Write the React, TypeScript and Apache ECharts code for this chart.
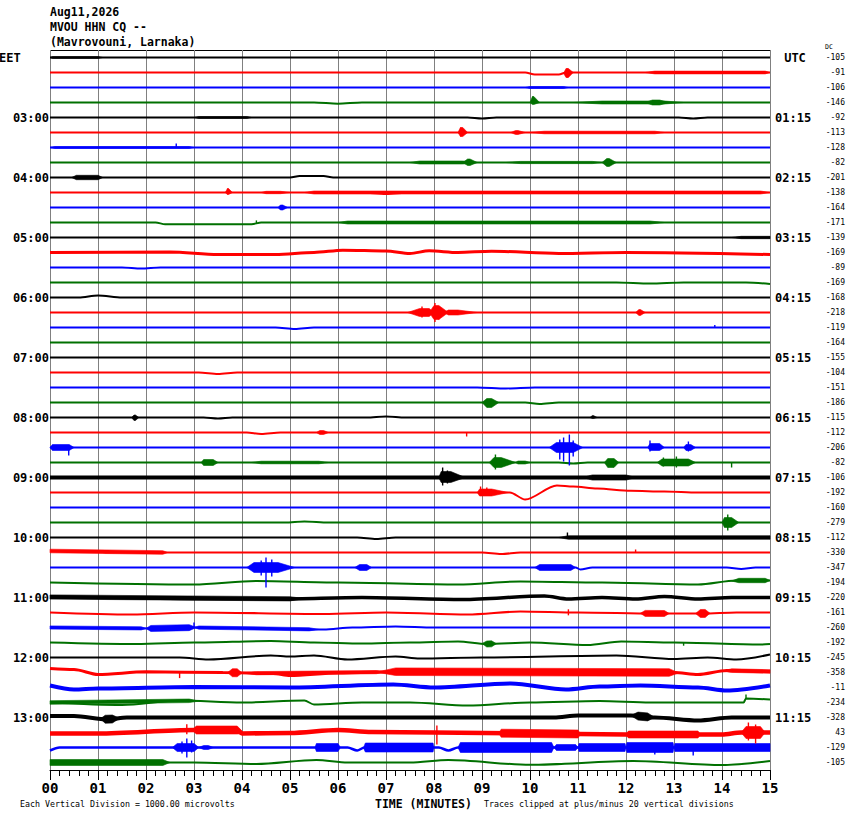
import React, { useEffect, useRef } from "react";
import * as echarts from "echarts";

const HEADER_LINES = ["Aug11,2026", "MVOU HHN CQ --", "(Mavrovouni, Larnaka)"];
const MINUTE_LABELS = ["00", "01", "02", "03", "04", "05", "06", "07", "08", "09", "10", "11", "12", "13", "14", "15"];
const LOCAL_HOURS = ["03:00", "04:00", "05:00", "06:00", "07:00", "08:00", "09:00", "10:00", "11:00", "12:00", "13:00"];
const UTC_HOURS = ["01:15", "02:15", "03:15", "04:15", "05:15", "06:15", "07:15", "08:15", "09:15", "10:15", "11:15"];
const DC_OFFSETS = [
  -105, -91, -106, -146, -92, -113, -128, -82, -201, -138, -164, -171,
  -139, -169, -89, -169, -168, -218, -119, -164, -155, -104, -151, -186,
  -115, -112, -206, -82, -106, -192, -160, -279, -112, -330, -347, -194,
  -220, -161, -260, -192, -245, -358, -11, -234, -328, 43, -129, -105,
];
const TRACE_COLORS = ["#000000", "#ff0000", "#0000ff", "#007000"];
const TRACE_WIDTHS = [
  2.2, 2, 2, 2, 2, 2, 2, 2, 2, 2, 2, 2,
  2, 3, 2, 2, 2, 2, 2, 2, 1.8, 2, 1.8, 2,
  2, 2, 2, 2.2, 4, 2, 2, 2, 2.2, 2.2, 2, 2,
  3.5, 2.2, 2.2, 2, 2, 3, 4, 2, 4, 4.5, 2.5, 2,
];
// slow baseline wander: [trace, minute, offset in px (+ = down)]
const WANDER: [number, number, number][] = [
  [1, 9.9, 0], [1, 10.1, 2], [1, 10.6, 2], [1, 10.75, 0],
  [3, 5.5, 0], [3, 6.0, 1.2], [3, 6.5, 0],
  [4, 8.7, 0], [4, 9.0, 1], [4, 9.3, 0], [4, 13.1, 0], [4, 13.4, 1], [4, 13.7, 0],
  [8, 5.0, 0], [8, 5.2, -1.5], [8, 5.7, -1.5], [8, 5.9, 0],
  [9, 6.5, 0], [9, 7.0, 1.5], [9, 7.5, 0],
  [11, 2.2, 0], [11, 2.4, 1.8], [11, 4.2, 1.8], [11, 4.4, 0],
  [13, 0, 0], [13, 2.5, -0.5], [13, 3.5, 2], [13, 4.7, 2], [13, 5.5, 0], [13, 6.1, -2.3], [13, 7.0, -1.5],
  [13, 7.5, 1], [13, 7.9, -1.7], [13, 8.5, 0], [13, 9.2, -1.3], [13, 10.6, 1], [13, 12, 0], [13, 15, 2],
  [14, 1.5, 0], [14, 1.9, 1], [14, 2.3, 0],
  [15, 11.8, 0], [15, 12.5, 1], [15, 13.2, 0], [15, 14.5, 0], [15, 15, 1.5],
  [16, 0.6, 0], [16, 1.0, -2], [16, 1.5, 0],
  [18, 4.7, 0], [18, 5.1, 1.5], [18, 5.5, 0],
  [21, 3.1, 0], [21, 3.5, 1.5], [21, 3.9, 0],
  [22, 8.9, 0], [22, 9.5, 1], [22, 10.1, 0],
  [23, 9.9, 0], [23, 10.2, 1.5], [23, 10.6, 0],
  [24, 3.2, 0], [24, 3.5, 1], [24, 3.8, 0], [24, 6.6, 0], [24, 7.0, -1], [24, 7.4, 0],
  [25, 4.1, 0], [25, 4.4, 1.5], [25, 4.8, 0],
  [27, 10.6, 0], [27, 10.9, 1], [27, 11.2, 0],
  [29, 9.58, 0], [29, 9.9, 7], [29, 10.56, -7], [29, 10.9, -6], [29, 11.4, -4], [29, 12.1, -1.7], [29, 12.8, -1], [29, 13.5, 0],
  [31, 4.9, 0], [31, 5.3, -1], [31, 5.8, 0],
  [32, 6.4, 0], [32, 6.8, 1.5], [32, 7.2, 0],
  [33, 0, -1.5], [33, 1.0, -1], [33, 1.2, 0], [33, 9.0, 0], [33, 9.4, 1.5], [33, 9.8, 0],
  [34, 10.95, 0], [34, 11.05, 2], [34, 11.3, 0], [34, 14.1, 0], [34, 14.4, 1.5], [34, 14.7, 0],
  [35, 0, 0], [35, 3.0, 2], [35, 4.3, -1.5], [35, 6, 0], [35, 8.5, 2], [35, 9.8, -1], [35, 11.5, 0], [35, 13.5, 2], [35, 14.3, -2], [35, 15, -2],
  [36, 0, -0.5], [36, 4.8, 1.5], [36, 6.5, 0], [36, 8.6, 2], [36, 10.3, -1.5], [36, 10.8, 1.5], [36, 11.5, 0],
  [36, 12.2, 1.5], [36, 12.8, -1], [36, 13.5, 1.5], [36, 14.2, 0],
  [37, 0, 0], [37, 1.7, 2], [37, 3, 0], [37, 5.7, 1.5], [37, 7, 0], [37, 8.7, 2], [37, 9.8, -1], [37, 11, 0], [37, 12.6, 1], [37, 13.6, 1], [37, 14.3, 0],
  [38, 0, 0], [38, 2.2, 1], [38, 3.0, 0], [38, 5.7, 2], [38, 6.3, 0], [38, 7.2, -1], [38, 8, 0],
  [39, 0, 0], [39, 1.8, 1.5], [39, 3, 0], [39, 4.6, -1.5], [39, 5.5, 0], [39, 6.5, 1], [39, 7.5, 0], [39, 8.5, -1],
  [39, 9.1, 1.5], [39, 10, 0], [39, 11.2, 2.5], [39, 11.9, -1], [39, 13, 0], [39, 14.8, 2], [39, 15, 1.5],
  [40, 0, 0], [40, 2.7, 0], [40, 3.3, 2], [40, 4.6, -2], [40, 5.0, -1], [40, 5.5, -2], [40, 6.2, 2], [40, 7.2, -1],
  [40, 7.7, 1], [40, 9, 0], [40, 11.8, -2], [40, 13.0, 1.5], [40, 13.7, 0], [40, 14.3, 2], [40, 15, -3],
  [41, 0, -4], [41, 0.5, -3], [41, 1.0, 2], [41, 2.0, -0.7], [41, 3.6, 0], [41, 4.65, 1], [41, 5.0, 3], [41, 6.0, 0.5],
  [41, 7.4, -1], [41, 10, 0], [41, 13.0, 0], [41, 13.5, 2], [41, 14.1, -2], [41, 15, -1],
  [42, 0, -2], [42, 0.5, 2], [42, 1.0, 1], [42, 3, -0.5], [42, 5, 0], [42, 7.15, -3], [42, 8.0, 0], [42, 9.6, -4],
  [42, 10.75, 2], [42, 11.45, -1], [42, 12.3, -2], [42, 13.5, 0], [42, 14.1, 3], [42, 15, -2],
  [43, 0, 0], [43, 1.5, 2.5], [43, 2.7, -2], [43, 4.0, 0], [43, 5.3, -2], [43, 5.5, 2], [43, 6.5, 0], [43, 7.5, 0],
  [43, 8.7, 3], [43, 10, 0], [43, 11.45, -1.5], [43, 12.5, 0], [43, 14.45, 0], [43, 14.5, -4], [43, 15, -3],
  [44, 0, -1.5], [44, 0.5, -1.5], [44, 1.2, 2], [44, 1.6, 0], [44, 10.5, 0], [44, 11.0, -2], [44, 12.1, -2], [44, 12.6, 0], [44, 13.5, 3], [44, 14.2, 0],
  [45, 0, 1], [45, 1.0, 1], [45, 3.0, -2.5], [45, 3.9, -2.5], [45, 4.0, 1], [45, 5.0, 0.5], [45, 6.0, -2.5], [45, 6.7, -0.5],
  [45, 8, 0], [45, 12.0, 2], [45, 12.5, 2], [45, 14.0, 2], [45, 14.4, 0],
  [46, 0, 3], [46, 0.2, 0], [46, 6.2, 0], [46, 6.4, 3], [46, 6.55, 0], [46, 8.1, 0], [46, 8.3, 3], [46, 8.5, 0],
  [47, 0, 0], [47, 3, 0], [47, 4.3, 1.5], [47, 5.55, -2.5], [47, 6.2, 0], [47, 7.5, 0], [47, 8.3, -2.5], [47, 10.0, 2.3],
  [47, 12.15, -1.5], [47, 14.0, 2.5], [47, 15, -1.5],
];
// oscillation envelopes: [trace, start, rampEnd, holdEnd, end (minutes), up px, down px]
const BURSTS: [number, number, number, number, number, number, number][] = [
  [0, 0, 0.05, 1.0, 1.1, 1.0, 1.0],
  [1, 10.7, 10.75, 10.8, 10.9, 4, 5],
  [1, 12.4, 12.6, 14.9, 15, 1.4, 1.4],
  [2, 9.9, 10, 10.7, 10.8, 1, 1],
  [3, 10.0, 10.05, 10.08, 10.2, 6, 2],
  [3, 10.9, 11.5, 12.8, 13.2, 1.5, 1.5],
  [3, 12.4, 12.55, 12.7, 12.9, 2.5, 2.5],
  [4, 3.0, 3.1, 4.1, 4.2, 1, 1],
  [5, 8.5, 8.55, 8.6, 8.7, 5, 4],
  [5, 9.6, 9.7, 9.75, 9.9, 2, 2],
  [5, 10.0, 10.3, 12.6, 12.8, 1.3, 1.3],
  [6, 0, 0.1, 2.9, 3.0, 1, 1],
  [7, 7.5, 7.7, 8.6, 8.9, 1.5, 1.5],
  [7, 8.6, 8.7, 8.75, 8.9, 3.5, 3],
  [7, 9.5, 9.8, 11.3, 11.5, 1.1, 1.1],
  [7, 11.5, 11.6, 11.65, 11.8, 4, 4],
  [8, 0.45, 0.55, 1.0, 1.1, 2.2, 2.2],
  [9, 3.65, 3.7, 3.72, 3.8, 4, 2],
  [9, 4.4, 4.5, 4.8, 5.0, 1.2, 1.2],
  [9, 5.3, 5.5, 14.8, 15, 1.5, 1.5],
  [10, 4.75, 4.8, 4.85, 4.95, 2.5, 2.5],
  [11, 6.0, 6.2, 12.5, 12.8, 1.5, 1.5],
  [12, 14.2, 14.4, 15, 15, 1.2, 1.2],
  [17, 7.45, 7.7, 7.9, 8.0, 4, 4],
  [17, 7.9, 8.0, 8.1, 8.3, 7, 7],
  [17, 8.2, 8.3, 8.5, 8.9, 2.5, 2.5],
  [17, 12.2, 12.27, 12.3, 12.4, 3, 3],
  [23, 9.0, 9.1, 9.2, 9.35, 4, 5],
  [24, 1.7, 1.75, 1.78, 1.85, 2.5, 3],
  [24, 11.25, 11.3, 11.32, 11.4, 2, 1],
  [25, 5.55, 5.62, 5.7, 5.8, 2, 2],
  [26, 0.0, 0.05, 0.4, 0.5, 3, 3],
  [26, 10.4, 10.55, 10.9, 11.1, 5, 5],
  [26, 12.45, 12.5, 12.7, 12.8, 4, 3],
  [26, 13.2, 13.25, 13.35, 13.45, 3, 3],
  [27, 3.15, 3.2, 3.4, 3.5, 3, 3],
  [27, 4.2, 4.4, 5.6, 5.8, 1.3, 1.3],
  [27, 9.15, 9.25, 9.4, 9.7, 5, 5],
  [27, 9.7, 9.75, 9.9, 10.0, 1.5, 1.5],
  [27, 11.55, 11.62, 11.75, 11.85, 4, 5],
  [27, 12.65, 12.75, 13.3, 13.45, 3.5, 3.5],
  [28, 8.1, 8.15, 8.35, 8.65, 6, 5],
  [28, 11.1, 11.3, 12.0, 12.2, 2.6, 2.6],
  [29, 8.9, 8.95, 9.2, 9.55, 3.5, 3.5],
  [31, 14.0, 14.05, 14.2, 14.35, 5, 5],
  [32, 10.6, 10.8, 15, 15, 1.8, 1.8],
  [33, 0, 0, 2.35, 2.45, 1.8, 1.8],
  [34, 4.1, 4.25, 4.75, 5.1, 5, 5],
  [34, 6.35, 6.45, 6.6, 6.7, 3, 3],
  [34, 10.1, 10.2, 10.85, 10.95, 3, 3],
  [35, 14.2, 14.35, 14.9, 15, 2.2, 2.2],
  [36, 0, 0, 5.0, 5.3, 2.1, 2.1],
  [37, 12.3, 12.4, 12.8, 12.9, 3, 3],
  [37, 13.45, 13.55, 13.65, 13.75, 4, 4],
  [38, 0, 0, 1.9, 2.0, 1.6, 1.6],
  [38, 2.0, 2.1, 2.9, 3.05, 3, 3],
  [38, 3.0, 3.1, 5.4, 5.6, 1.6, 1.6],
  [39, 9.0, 9.1, 9.2, 9.3, 3, 3],
  [41, 3.7, 3.8, 3.9, 4.0, 4, 4],
  [41, 4.0, 4.3, 6.8, 7.0, 1.6, 1.6],
  [41, 6.8, 7.2, 12.9, 13.1, 3.8, 3.8],
  [41, 14.0, 14.2, 15, 15, 1.8, 1.8],
  [43, 0, 0, 2.9, 3.1, 1.8, 1.8],
  [44, 1.05, 1.15, 1.3, 1.45, 4, 4],
  [44, 12.1, 12.25, 12.45, 12.6, 4, 4],
  [45, 2.95, 3.05, 3.9, 4.05, 4, 4],
  [45, 9.35, 9.4, 11.0, 11.05, 4, 4],
  [45, 12.0, 12.05, 13.5, 13.55, 3.5, 3.5],
  [45, 14.4, 14.5, 14.8, 14.9, 6, 6],
  [46, 2.55, 2.65, 3.0, 3.1, 4, 4],
  [46, 3.1, 3.2, 3.3, 3.4, 2, 2],
  [46, 5.52, 5.55, 6.0, 6.05, 4, 4],
  [46, 6.53, 6.57, 7.98, 8.0, 4.5, 4.5],
  [46, 8.5, 8.55, 10.45, 10.5, 5, 5],
  [46, 10.5, 10.55, 10.95, 11.0, 3, 3],
  [46, 11.0, 11.02, 11.98, 12.0, 4, 4],
  [46, 12.0, 12.02, 12.98, 13.0, 5, 5],
  [46, 13.0, 13.02, 15, 15, 4, 4],
  [47, 0, 0, 2.35, 2.5, 3, 3],
];
// single large swings: [trace, minute, up px, down px]
const SPIKES: [number, number, number, number][] = [
  [1, 10.78, 4, 5], [3, 10.06, 6, 0], [5, 8.56, 5, 4], [6, 2.63, 4, 0], [9, 3.7, 4, 2], [11, 4.3, 3, 0],
  [17, 7.75, 6, 5], [17, 8.02, 9.5, 9.5], [17, 8.1, 6, 7], [18, 13.85, 2.5, 0], [25, 8.68, 0, 4],
  [26, 0.39, 2, 8], [26, 10.62, 8, 12], [26, 10.7, 10, 14], [26, 10.82, 13, 18], [26, 10.9, 7, 9],
  [26, 12.5, 7, 4], [26, 13.3, 6, 4],
  [27, 9.28, 8, 7], [27, 12.78, 5, 4], [27, 13.05, 6, 5], [27, 14.2, 0, 5],
  [28, 8.18, 10, 8], [28, 8.28, 7, 6], [29, 8.97, 6, 3], [29, 9.1, 5, 3], [31, 14.12, 8, 8],
  [32, 10.78, 5, 0], [33, 12.2, 3, 0], [34, 4.4, 7, 8], [34, 4.5, 10, 20], [34, 4.62, 8, 9],
  [37, 10.8, 3, 3], [38, 3.0, 5, 0], [39, 13.2, 0, 3], [41, 2.7, 0, 6], [43, 14.5, 4, 0],
  [45, 2.85, 6, 4], [45, 8.06, 7, 12], [45, 14.55, 10, 8], [45, 14.7, 8, 11],
  [46, 2.75, 6, 6], [46, 2.85, 9, 10], [46, 2.95, 7, 5], [46, 12.6, 0, 7], [46, 13.4, 0, 8],
];

const ROW_PX = 15;
const MONO = "'DejaVu Sans Mono', 'Liberation Mono', monospace";
const ROWS = DC_OFFSETS.length;
const MAX_MIN = MINUTE_LABELS.length - 1;

function buildKnots(): [number, number][][] {
  const knots: [number, number][][] = Array.from({ length: ROWS }, () => []);
  WANDER.forEach(([t, m, o]) => knots[t].push([m, o]));
  return knots.map((k) => {
    const s = k.slice().sort((a, b) => a[0] - b[0]);
    if (!s.length || s[0][0] > 0) s.unshift([0, 0]);
    if (s[s.length - 1][0] < MAX_MIN) s.push([MAX_MIN, 0]);
    return s;
  });
}
const KNOTS = buildKnots();

function offsetAt(t: number, m: number): number {
  const k = KNOTS[t];
  for (let j = 0; j < k.length - 1; j++) {
    if (m >= k[j][0] && m <= k[j + 1][0]) {
      const span = k[j + 1][0] - k[j][0] || 1;
      const f = (m - k[j][0]) / span;
      return k[j][1] + f * (k[j + 1][1] - k[j][1]);
    }
  }
  return 0;
}

export default function App() {
  const ref = useRef<HTMLDivElement>(null);
  useEffect(() => {
    document.body.style.margin = "0";
    if (!ref.current) return;
    const chart = echarts.init(ref.current, undefined, { renderer: "svg" });

    const leftLabels = Array.from({ length: ROWS }, (_, i) => (i % 4 === 0 && i > 0 ? LOCAL_HOURS[i / 4 - 1] : ""));
    const rightLabels = Array.from({ length: ROWS }, (_, i) => (i % 4 === 0 && i > 0 ? UTC_HOURS[i / 4 - 1] : ""));
    const dcLabels = DC_OFFSETS.map((v) => String(v));
    const rowIdx = Array.from({ length: ROWS }, (_, i) => i);

    const lineSeries = rowIdx.map((t) => ({
      type: "line",
      xAxisIndex: 0,
      yAxisIndex: 0,
      data: KNOTS[t].map(([m, o]) => [m, t + 0.5 + o / ROW_PX]),
      showSymbol: false,
      symbol: "none",
      smooth: 0.3,
      smoothMonotone: "x",
      silent: true,
      z: 2,
      lineStyle: { color: TRACE_COLORS[t % 4], width: TRACE_WIDTHS[t] },
    }));

    const burstSeries = {
      type: "custom",
      xAxisIndex: 0,
      yAxisIndex: 0,
      silent: true,
      z: 3,
      encode: { x: [1, 2, 3, 4], y: 0 },
      data: BURSTS,
      renderItem: (_p: any, api: any) => {
        const t = api.value(0);
        const xs = [api.value(1), api.value(2), api.value(3), api.value(4)];
        const up = api.value(5);
        const down = api.value(6);
        const pt = (m: number, d: number) => api.coord([m, t + 0.5 + (offsetAt(t, m) + d) / ROW_PX]);
        const points = [pt(xs[0], 0), pt(xs[1], -up), pt(xs[2], -up), pt(xs[3], 0), pt(xs[2], down), pt(xs[1], down)];
        const c = TRACE_COLORS[t % 4];
        return { type: "polygon", shape: { points }, style: { fill: c, stroke: c, lineWidth: 0.6 } };
      },
    };

    const spikeSeries = {
      type: "custom",
      xAxisIndex: 0,
      yAxisIndex: 0,
      silent: true,
      z: 4,
      encode: { x: 1, y: 0 },
      data: SPIKES,
      renderItem: (_p: any, api: any) => {
        const t = api.value(0);
        const m = api.value(1);
        const base = t + 0.5 + offsetAt(t, m) / ROW_PX;
        const a = api.coord([m, base - api.value(2) / ROW_PX]);
        const b = api.coord([m, base + api.value(3) / ROW_PX]);
        return {
          type: "line",
          shape: { x1: a[0], y1: a[1], x2: b[0], y2: b[1] },
          style: { stroke: TRACE_COLORS[t % 4], lineWidth: 1.4 },
        };
      },
    };

    const textEl = (text: string, x: number, y: number, font: string, align = "left") => ({
      type: "text",
      x,
      y,
      silent: true,
      style: { text, font, fill: "#000", textAlign: align, textVerticalAlign: "middle" },
    });

    chart.setOption({
      animation: false,
      backgroundColor: "#ffffff",
      grid: { left: 50, right: 80, top: 50, bottom: 44, containLabel: false },
      xAxis: {
        type: "value",
        min: 0,
        max: MAX_MIN,
        interval: 1,
        position: "bottom",
        axisLine: { show: true, onZero: false, lineStyle: { color: "#000", width: 1 } },
        axisTick: { show: true, length: 10, lineStyle: { color: "#000", width: 1 } },
        minorTick: { show: true, splitNumber: 5, length: 6, lineStyle: { color: "#000", width: 1 } },
        minorSplitLine: { show: false },
        axisLabel: {
          formatter: (v: number) => MINUTE_LABELS[Math.round(v)],
          fontFamily: MONO,
          fontWeight: "bold",
          fontSize: 14,
          color: "#000",
          margin: 11,
        },
        splitLine: { show: true, lineStyle: { color: "#808080", width: 1 } },
      },
      yAxis: [
        { type: "value", min: 0, max: ROWS, inverse: true, show: false },
        {
          type: "category",
          position: "left",
          inverse: true,
          data: leftLabels,
          axisLine: { show: false },
          axisTick: { show: false },
          splitLine: { show: false },
          axisLabel: { interval: 0, margin: 1, fontFamily: MONO, fontWeight: "bold", fontSize: 12, color: "#000" },
        },
        {
          type: "category",
          position: "right",
          inverse: true,
          data: rightLabels,
          axisLine: { show: false },
          axisTick: { show: false },
          splitLine: { show: false },
          axisLabel: { interval: 0, margin: 5, fontFamily: MONO, fontWeight: "bold", fontSize: 12, color: "#000" },
        },
        {
          type: "category",
          position: "right",
          offset: 75,
          inverse: true,
          data: dcLabels,
          axisLine: { show: false },
          axisTick: { show: false },
          splitLine: { show: false },
          axisLabel: { interval: 0, inside: true, margin: 0, fontFamily: MONO, fontSize: 8, color: "#000" },
        },
      ],
      graphic: [
        {
          type: "line",
          silent: true,
          shape: { x1: 50, y1: 50.5, x2: 770, y2: 50.5 },
          style: { stroke: "#000", lineWidth: 1 },
        },
        textEl(HEADER_LINES[0], 50, 12, `bold 11.5px ${MONO}`),
        textEl(HEADER_LINES[1], 50, 27, `bold 11.5px ${MONO}`),
        textEl(HEADER_LINES[2], 50, 42, `bold 11.5px ${MONO}`),
        textEl("EET", -1, 57.5, `bold 12px ${MONO}`),
        textEl("UTC", 795, 57.5, `bold 12px ${MONO}`, "center"),
        textEl("DC", 825, 47, `6.5px ${MONO}`),
        textEl("Each Vertical Division = 1000.00 microvolts", 20, 804, `8.3px ${MONO}`),
        textEl("TIME (MINUTES)", 375, 804, `bold 11.5px ${MONO}`),
        textEl("Traces clipped at plus/minus 20 vertical divisions", 484, 804, `8.3px ${MONO}`),
      ],
      series: [...lineSeries, burstSeries, spikeSeries],
    });

    return () => chart.dispose();
  }, []);

  return <div ref={ref} style={{ width: 850, height: 814 }} />;
}
